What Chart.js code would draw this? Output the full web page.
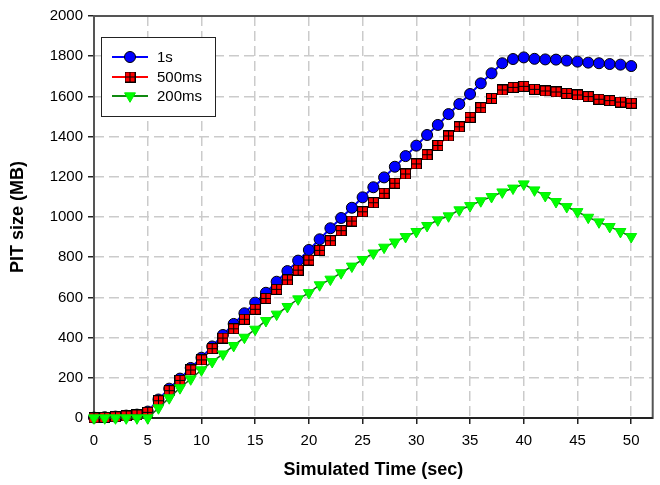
<!DOCTYPE html>
<html>
<head>
<meta charset="utf-8">
<script src="https://cdn.jsdelivr.net/npm/chart.js@4.4.1/dist/chart.umd.min.js"></script>
<style>
  html, body { margin: 0; padding: 0; background: #fff; }
  #wrap { width: 660px; height: 485px; }
</style>
</head>
<body>
<div id="wrap"><canvas id="chart"></canvas></div>
<script>
// Datos (tiempo en segundos, tamano PIT en MB)
const tiempos = [0,1,2,3,4,5,6,7,8,9,10,11,12,13,14,15,16,17,18,19,20,21,22,23,24,25,26,27,28,29,30,31,32,33,34,35,36,37,38,39,40,41,42,43,44,45,46,47,48,49,50];
const serie1s = [2,4,7,12,17,32,92,146,196,249,300,356,413,468,521,574,623,678,731,783,836,889,944,995,1046,1098,1148,1197,1250,1303,1355,1408,1458,1512,1562,1612,1665,1715,1765,1786,1794,1787,1784,1783,1778,1773,1768,1765,1761,1758,1751];
const serie500ms = [1,3,6,10,15,28,86,136,187,239,289,345,398,444,491,541,595,640,687,736,786,834,882,932,980,1026,1071,1118,1168,1214,1264,1310,1356,1403,1449,1496,1544,1590,1632,1645,1650,1635,1627,1622,1615,1607,1599,1586,1579,1572,1566];
const serie200ms = [0,0,0,0,0,0,50,100,150,194,239,280,318,360,401,441,484,516,554,592,623,662,690,722,755,788,820,849,875,902,927,957,985,1005,1035,1056,1080,1101,1124,1143,1164,1134,1106,1076,1051,1026,998,975,952,927,902];
const etiquetas = ['1s', '500ms', '200ms'];
const ticksX = [0, 5, 10, 15, 20, 25, 30, 35, 40, 45, 50];

const fuente = "'Liberation Sans', Arial, sans-serif";

// Marcador cuadrado rojo con cuadricula negra
function marcadorCuadro() {
  const c = document.createElement('canvas');
  c.width = 11; c.height = 11;
  const g = c.getContext('2d');
  g.fillStyle = '#000';
  g.fillRect(0, 0, 11, 11);
  g.fillStyle = '#ff0000';
  g.fillRect(1, 1, 4, 4);
  g.fillRect(6, 1, 4, 4);
  g.fillRect(1, 6, 4, 4);
  g.fillRect(6, 6, 4, 4);
  return c;
}
const cuadro = marcadorCuadro();

const aPuntos = arr => arr.map((v, i) => ({ x: tiempos[i], y: v }));

// Marco del area de datos
const marco = {
  id: 'marco',
  beforeDatasetsDraw(chart) {
    const a = chart.chartArea;
    const ctx = chart.ctx;
    ctx.save();
    ctx.strokeStyle = '#555';
    ctx.lineWidth = 2;
    ctx.strokeRect(a.left, a.top, a.right - a.left, a.bottom - a.top);
    ctx.strokeStyle = '#222';
    ctx.beginPath();
    ctx.moveTo(a.left, a.bottom);
    ctx.lineTo(a.right, a.bottom);
    ctx.stroke();
    ctx.restore();
  }
};

// Leyenda dentro del grafico
const leyenda = {
  id: 'leyenda',
  afterDraw(chart) {
    const ctx = chart.ctx;
    ctx.save();
    ctx.fillStyle = '#fff';
    ctx.fillRect(101, 37, 114, 79);
    ctx.strokeStyle = '#222';
    ctx.lineWidth = 1;
    ctx.strokeRect(101.5, 37.5, 114, 79);
    const filas = [57, 77, 96];
    chart.data.datasets.forEach((ds, i) => {
      const y = filas[i];
      ctx.strokeStyle = i === 2 ? '#108a10' : ds.borderColor;
      ctx.lineWidth = 2;
      ctx.beginPath();
      ctx.moveTo(112, y);
      ctx.lineTo(148, y);
      ctx.stroke();
      ctx.fillStyle = ds.pointBackgroundColor;
      ctx.strokeStyle = ds.pointBorderColor;
      ctx.lineWidth = ds.pointBorderWidth;
      Chart.helpers.drawPoint(ctx, {
        pointStyle: ds.pointStyle,
        radius: ds.pointRadius,
        rotation: ds.pointRotation || 0,
        borderWidth: ds.pointBorderWidth
      }, 130, y);
      ctx.fillStyle = '#000';
      ctx.font = '15px ' + fuente;
      ctx.textBaseline = 'middle';
      ctx.textAlign = 'left';
      ctx.fillText(etiquetas[i], 157, y + 1);
    });
    ctx.restore();
  }
};

const rejilla = {
  color: '#cbcbcb',
  lineWidth: 1.5,
  tickLength: 6,
  tickColor: '#222',
  tickWidth: 1.5,
  tickBorderDash: []
};

const ctx = document.getElementById('chart').getContext('2d');
new Chart(ctx, {
  type: 'line',
  data: {
    datasets: [
      {
        label: etiquetas[0],
        data: aPuntos(serie1s),
        borderColor: '#0000ff',
        borderWidth: 2,
        pointStyle: 'circle',
        pointRadius: 5.5,
        pointBackgroundColor: '#0000ff',
        pointBorderColor: '#000',
        pointBorderWidth: 1,
        order: 2,
        clip: false
      },
      {
        label: etiquetas[1],
        data: aPuntos(serie500ms),
        borderColor: '#ff0000',
        borderWidth: 1.5,
        pointStyle: cuadro,
        pointRadius: 5.5,
        pointBackgroundColor: '#ff0000',
        pointBorderColor: '#000',
        pointBorderWidth: 1,
        order: 1,
        clip: false
      },
      {
        label: etiquetas[2],
        data: aPuntos(serie200ms),
        borderColor: '#1a5a1a',
        borderWidth: 1.5,
        pointStyle: 'triangle',
        pointRotation: 180,
        pointRadius: 6.3,
        pointBackgroundColor: '#00ff00',
        pointBorderColor: '#00ee00',
        pointBorderWidth: 1,
        order: 0,
        clip: false
      }
    ]
  },
  options: {
    responsive: true,
    maintainAspectRatio: false,
    animation: false,
    events: [],
    layout: { padding: { left: 0, right: 7, top: 16, bottom: 0 } },
    plugins: {
      legend: { display: false },
      tooltip: { enabled: false }
    },
    scales: {
      x: {
        type: 'linear',
        min: 0,
        max: 52,
        afterBuildTicks: scale => { scale.ticks = ticksX.map(v => ({ value: v })); },
        afterFit: scale => { scale.height = 67; },
        ticks: { padding: 8, color: '#000', font: { family: fuente, size: 15 } },
        grid: rejilla,
        border: { display: false, dash: [10, 5] },
        title: {
          display: true,
          text: 'Simulated Time (sec)',
          color: '#000',
          font: { family: fuente, size: 18, weight: 'bold' },
          padding: { top: 0, bottom: 4 }
        }
      },
      y: {
        min: 0,
        max: 2000,
        afterFit: scale => { scale.width = 94; },
        ticks: {
          stepSize: 200,
          padding: 5,
          color: '#000',
          font: { family: fuente, size: 15 },
          callback: v => String(v)
        },
        grid: rejilla,
        border: { display: false, dash: [10, 5] },
        title: {
          display: true,
          text: 'PIT size (MB)',
          color: '#000',
          font: { family: fuente, size: 18, weight: 'bold' },
          padding: { top: 7, bottom: 0 }
        }
      }
    }
  },
  plugins: [marco, leyenda]
});
</script>
</body>
</html>
